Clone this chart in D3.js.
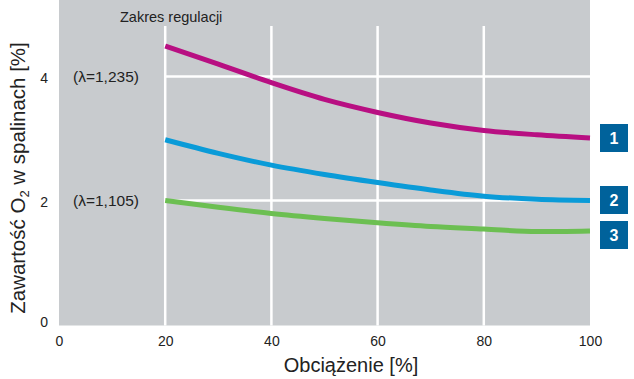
<!DOCTYPE html>
<html><head><meta charset="utf-8">
<script src="https://cdn.jsdelivr.net/npm/d3@7"></script>
<style>
html,body{margin:0;padding:0;background:#fff;}
svg{display:block;font-family:"Liberation Sans",Arial,Helvetica,sans-serif;}
</style></head>
<body>
<svg id="chart" width="634" height="379"></svg>
<script>
// ---- data ----
const loads = [20, 30, 40, 50, 60, 70, 80, 90, 100];
const series1 = [4.49, 4.20, 3.90, 3.63, 3.42, 3.25, 3.13, 3.06, 3.01];
const series2 = [2.98, 2.76, 2.57, 2.42, 2.29, 2.17, 2.07, 2.02, 2.00];
const series3 = [2.00, 1.89, 1.79, 1.71, 1.64, 1.58, 1.54, 1.50, 1.51];
const seriesNames = ["1", "2", "3"];
const seriesColors = ["#b80f82", "#0a9bd8", "#6cbf52"];
const xTicks = [0, 20, 40, 60, 80, 100];
const yTicks = [0, 2, 4];
const lambdaLabels = [{v: 4, t: "(λ=1,235)"}, {v: 2, t: "(λ=1,105)"}];
const xTitle = "Obciążenie [%]";
const yTitleMain = "Zawartość O";
const yTitleSub = "2";
const yTitleRest = " w spalinach [%]";
const rangeLabel = "Zakres regulacji";

// ---- layout ----
const svg = d3.select("#chart");
const x = d3.scaleLinear().domain([0, 100]).range([59, 590]);
const y = d3.scaleLinear().domain([0, 4]).range([324.5, 76.5]);

// background
svg.append("rect").attr("x", x(0)).attr("y", 0)
  .attr("width", x(100) - x(0)).attr("height", y(0) + 1)
  .attr("fill", "#c8cbce");

// grid
const g = svg.append("g");
[20, 40, 60, 80].forEach(v => {
  g.append("line").attr("x1", x(v)).attr("x2", x(v)).attr("y1", 26).attr("y2", y(0) + 1)
    .attr("stroke", "#fff").attr("stroke-width", 2.5);
});
[2, 4].forEach(v => {
  g.append("line").attr("x1", x(20)).attr("x2", x(100)).attr("y1", y(v)).attr("y2", y(v))
    .attr("stroke", "#fff").attr("stroke-width", 2.5);
});

// axes labels (ticks)
const xAxis = d3.axisBottom(x).tickValues(xTicks).tickFormat(d3.format("d")).tickSize(0).tickPadding(0);
const xa = svg.append("g").attr("transform", `translate(0,${y(0)})`).call(xAxis);
xa.select(".domain").remove();
xa.selectAll("text").attr("font-size", 14).attr("fill", "#222")
  .attr("font-family", "Liberation Sans, Arial, sans-serif")
  .attr("dy", null).attr("y", 21.5);

const yAxis = d3.axisLeft(y).tickValues(yTicks).tickFormat(d3.format("d")).tickSize(0).tickPadding(0);
const ya = svg.append("g").attr("transform", `translate(48,0)`).call(yAxis);
ya.select(".domain").remove();
ya.selectAll("text").attr("font-size", 14).attr("fill", "#222")
  .attr("font-family", "Liberation Sans, Arial, sans-serif")
  .attr("dy", "0.32em").attr("x", 0).attr("y", 2);
ya.selectAll("text").filter(d => d === 0).attr("y", -2);

// lambda labels
lambdaLabels.forEach(l => {
  svg.append("text").attr("x", 73).attr("y", y(l.v) + 5.5)
    .attr("font-size", 15.5).attr("fill", "#222").text(l.t);
});

// range label
svg.append("text").attr("x", 120).attr("y", 21.5).attr("font-size", 14.5)
  .attr("fill", "#222").text(rangeLabel);

// curves
const allSeries = [series1, series2, series3];
const line = d3.line().x((d, i) => x(loads[i])).y(d => y(d)).curve(d3.curveMonotoneX);
allSeries.forEach((s, k) => {
  svg.append("path").datum(s).attr("d", line).attr("fill", "none")
    .attr("stroke", seriesColors[k]).attr("stroke-width", 5);
});

// legend boxes
const boxY = [124, 186, 221];
seriesNames.forEach((n, k) => {
  svg.append("rect").attr("x", 600).attr("y", boxY[k]).attr("width", 28).attr("height", 28)
    .attr("fill", "#00629b");
  svg.append("text").attr("x", 614).attr("y", boxY[k] + 19.5).attr("text-anchor", "middle")
    .attr("font-size", 16).attr("font-weight", "bold").attr("fill", "#fff").text(n);
});

// titles
svg.append("text").attr("x", 351).attr("y", 372).attr("text-anchor", "middle")
  .attr("font-size", 20).attr("fill", "#222").text(xTitle);

const yt = svg.append("text").attr("transform", "translate(25,178) rotate(-90)")
  .attr("text-anchor", "middle").attr("font-size", 20.5).attr("fill", "#222");
yt.append("tspan").text(yTitleMain);
yt.append("tspan").attr("font-size", 13).attr("dy", 4).text(yTitleSub);
yt.append("tspan").attr("dy", -4).text(yTitleRest);
</script>
</body></html>
